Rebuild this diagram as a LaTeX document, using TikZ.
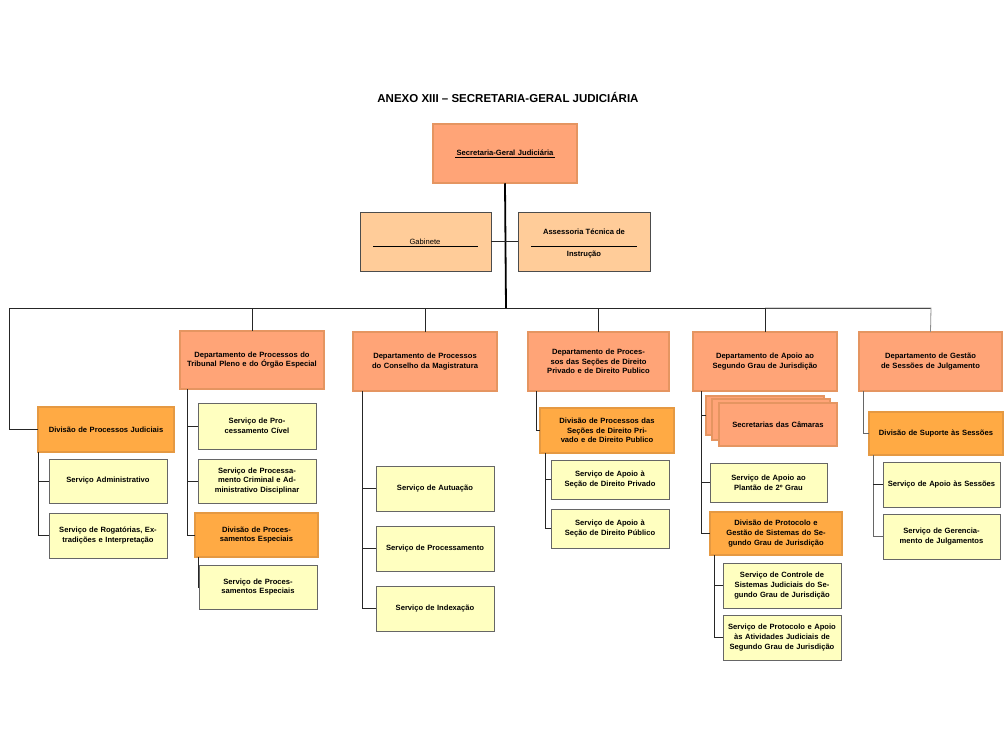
\documentclass[tikz,border=0pt]{standalone}
\usepackage{fontspec}
\setmainfont{Liberation Sans}
\usetikzlibrary{fit,calc}
\definecolor{salmon}{HTML}{FFA477}
\definecolor{peach}{HTML}{FFCC99}
\definecolor{orng}{HTML}{FFAA44}
\definecolor{yel}{HTML}{FFFFC0}
\tikzset{
 base/.style={inner sep=0pt,align=center,font=\fontsize{7.6}{9.6}\selectfont\bfseries},
 dept/.style={base,fill=salmon,draw=black!75,double=salmon!60!brown,double distance=1.4pt,line width=0.5pt},
 div/.style={base,fill=orng,draw=black!75,double=orng!60!brown,double distance=1.2pt,line width=0.5pt},
 srv/.style={base,fill=yel,draw=black!60,line width=0.9pt},
 gab/.style={base,fill=peach,draw=black!70,line width=0.7pt,font=\fontsize{7.6}{9.6}\selectfont},
 ln/.style={line width=0.8pt,black!85},
}
\newcommand\bx[7]{\node[#1,fit={(#3,#4)(#5,#6)}] (#2) {}; \node[base,text width={(#5-#3-4)*1pt}] at (#2.center) {#7};}
\begin{document}
\begin{tikzpicture}[x=1pt,y=-1pt]
\fill[white] (0,0) rectangle (1007,745);
\node[font=\fontsize{11.5}{13}\selectfont\bfseries] (title) at (508,97) {ANEXO XIII – SECRETARIA-GERAL JUDICIÁRIA};
\bx{dept}{sg}{433}{124}{577}{183}{\underline{\,Secretaria-Geral Judiciária\,}}
\node[gab,fit={(360,212)(491,271)}] (gab) {};
\node[font=\fontsize{7.6}{9}\selectfont] at (425,242) {Gabinete};
\draw[black] (373,246) -- (478,246);
\node[gab,fit={(518,212)(650,271)}] (ass) {};
\node[base] at (584,232) {Assessoria Técnica de};
\draw[black] (531,246) -- (637,246);
\node[base] at (584,255) {Instrução};
\coordinate (bus) at (506,308);
\draw[line width=1.8pt] (sg.south) -- (bus);
\draw[ln] (gab.east) -- (gab.east -| bus);
\draw[ln] (ass.west) -- (ass.west -| bus);
% departments
\bx{dept}{d1}{180}{331}{324}{389}{Departamento de Processos do Tribunal Pleno e do Órgão Especial}
\bx{dept}{d2}{353}{332}{497}{391}{Departamento de Processos do Conselho da Magistratura}
\bx{dept}{d3}{528}{332}{669}{391}{Departamento de Processos das Seções de Direito Privado e de Direito Publico}
\bx{dept}{d4}{693}{332}{837}{391}{Departamento de Apoio ao Segundo Grau de Jurisdição}
\bx{dept}{d5}{859}{332}{1002}{391}{Departamento de Gestão de Sessões de Julgamento}
\bx{div}{dpj}{38}{407}{174}{452}{Divisão de Processos Judiciais}
\coordinate (bl) at (9,308);
\coordinate (br) at (931,308);
\draw[ln] (dpj.west) -| (bl) -- (br);
\draw[ln,black!45] (765,308) -- (br) -- (d5.north);
\foreach \d in {d1,d2,d3,d4} \draw[ln] (\d.north) -- (\d.north |- bus);
% column 0
\bx{srv}{s01}{49}{459}{167}{503}{Serviço Administrativo}
\bx{srv}{s02}{49}{513}{167}{558}{Serviço de Rogatórias, Extradições e Interpretação}
\coordinate (c0) at (38,452);
\draw[ln] (c0) |- (s02.west); \draw[ln] (c0 |- s01.west) -- (s01.west);
% column 1
\bx{srv}{s11}{198}{403}{316}{449}{Serviço de Processamento Cível}
\bx{srv}{s12}{198}{459}{316}{503}{Serviço de Processamento Criminal e Administrativo Disciplinar}
\bx{div}{dpe}{195}{513}{318}{557}{Divisão de Processamentos Especiais}
\bx{srv}{s13}{199}{565}{317}{609}{Serviço de Processamentos Especiais}
\coordinate (c1) at (187,389);
\draw[ln] (c1) |- (dpe.west);
\draw[ln] (c1 |- s11.west) -- (s11.west); \draw[ln] (c1 |- s12.west) -- (s12.west);
\coordinate (c1b) at (198,557);
\draw[ln] (c1b) |- (s13.west);
% column 2
\bx{srv}{s21}{376}{466}{494}{511}{Serviço de Autuação}
\bx{srv}{s22}{376}{526}{494}{571}{Serviço de Processamento}
\bx{srv}{s23}{376}{586}{494}{631}{Serviço de Indexação}
\coordinate (c2) at (362,391);
\draw[ln] (c2) |- (s23.west);
\draw[ln] (c2 |- s21.west) -- (s21.west); \draw[ln] (c2 |- s22.west) -- (s22.west);
% column 3
\bx{div}{dpp}{540}{408}{674}{453}{Divisão de Processos das Seções de Direito Privado e de Direito Publico}
\bx{srv}{s31}{551}{460}{669}{499}{Serviço de Apoio à Seção de Direito Privado}
\bx{srv}{s32}{551}{509}{669}{548}{Serviço de Apoio à Seção de Direito Público}
\coordinate (c3) at (536,391);
\draw[ln] (c3) |- (dpp.west);
\coordinate (c3b) at (545,453);
\draw[ln] (c3b) |- (s32.west); \draw[ln] (c3b |- s31.west) -- (s31.west);
% column 4
\node[dept,fit={(706,396)(824,435)}] (sc1) {};
\node[dept,fit={(712,399)(830,440)}] (sc2) {};
\bx{dept}{sc}{719}{403}{837}{446}{Secretarias das Câmaras}
\bx{srv}{s41}{710}{463}{827}{502}{Serviço de Apoio ao Plantão de 2º Grau}
\bx{div}{dpg}{710}{512}{842}{555}{Divisão de Protocolo e Gestão de Sistemas do Segundo Grau de Jurisdição}
\bx{srv}{s42}{723}{563}{841}{608}{Serviço de Controle de Sistemas Judiciais do Segundo Grau de Jurisdição}
\bx{srv}{s43}{723}{615}{841}{660}{Serviço de Protocolo e Apoio às Atividades Judiciais de Segundo Grau de Jurisdição}
\coordinate (c4) at (701,391);
\draw[ln] (c4) |- (dpg.west);
\draw[ln] (c4 |- sc1.west) -- (sc1.west); \draw[ln] (c4 |- s41.west) -- (s41.west);
\coordinate (c4b) at (714,555);
\draw[ln] (c4b) |- (s43.west); \draw[ln] (c4b |- s42.west) -- (s42.west);
% column 5
\bx{div}{dss}{869}{412}{1003}{455}{Divisão de Suporte às Sessões}
\bx{srv}{s51}{883}{462}{1000}{507}{Serviço de Apoio às Sessões}
\bx{srv}{s52}{883}{514}{1000}{559}{Serviço de Gerenciamento de Julgamentos}
\coordinate (c5) at (863,391);
\draw[ln,black!60] (c5) |- (dss.west);
\coordinate (c5b) at (873,455);
\draw[ln,black!60] (c5b) |- (s52.west); \draw[ln] (c5b |- s51.west) -- (s51.west);
\end{tikzpicture}
\end{document}
